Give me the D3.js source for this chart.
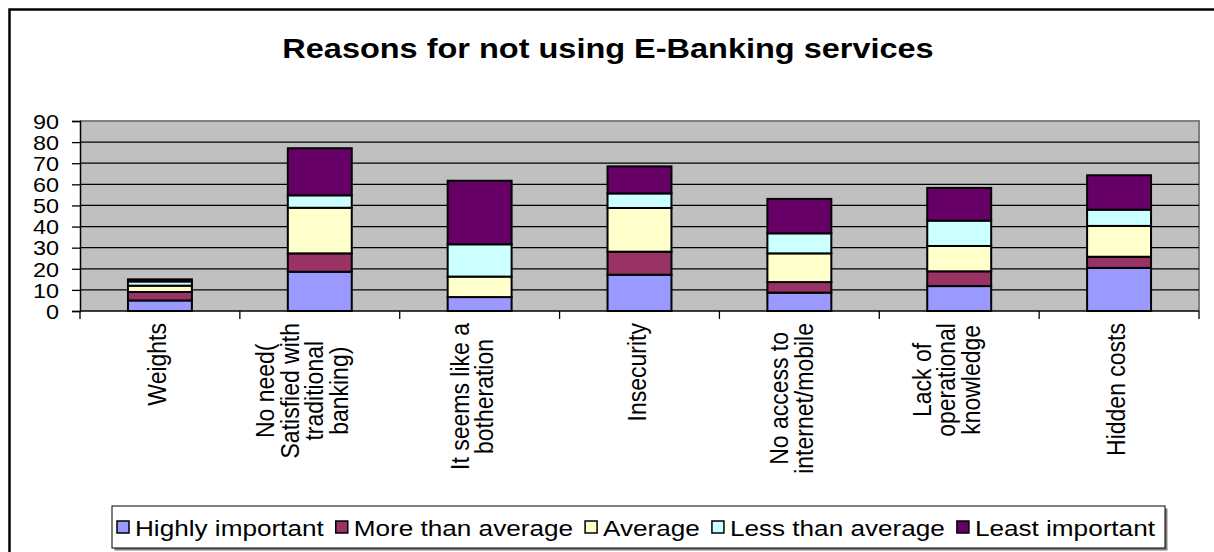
<!DOCTYPE html>
<html>
<head>
<meta charset="utf-8">
<script src="https://cdnjs.cloudflare.com/ajax/libs/d3/7.8.5/d3.min.js"></script>
<style>
  body { margin: 0; background: #fff; }
  text { font-family: Arial, "Liberation Sans", sans-serif; fill: #000; }
</style>
</head>
<body>
<div id="container"></div>
<script>
var categories = [
    ['Weights'],
    ['No need(', 'Satisfied with', 'traditional', 'banking)'],
    ['It seems like a', 'botheration'],
    ['Insecurity'],
    ['No access to', 'internet/mobile'],
    ['Lack of', 'operational', 'knowledge'],
    ['Hidden costs']
];
var seriesNames = ['Highly important', 'More than average', 'Average', 'Less than average', 'Least important'];
var highlyImportant = [5, 18.6, 6.6, 17.2, 8.7, 11.8, 20.4];
var moreThanAverage = [4, 8.7, 0, 10.9, 5.0, 7.0, 5.3];
var average = [3, 21.6, 9.7, 20.7, 13.6, 12.0, 14.6];
var lessThanAverage = [2, 5.9, 15.3, 6.9, 9.5, 12.0, 7.7];
var leastImportant = [1, 22.3, 30.1, 12.8, 16.3, 15.5, 16.3];
var yTicks = [0, 10, 20, 30, 40, 50, 60, 70, 80, 90];
var colors = ['#9999FF', '#993366', '#FFFFCC', '#CCFFFF', '#660066'];

var width = 1214,
    height = 552,
    plot = {left: 80, right: 1199, top: 121, bottom: 311};

var svg = d3.select('#container')
    .append('svg')
    .attr('width', width)
    .attr('height', height);

// outer frame (only left and top show in the picture)
svg.append('rect')
    .attr('x', 9.5).attr('y', 9.5)
    .attr('width', 1400).attr('height', 800)
    .attr('fill', 'none')
    .attr('stroke', '#000')
    .attr('stroke-width', 2.5);

// title
svg.append('g')
    .attr('transform', 'translate(608,58) scale(1.16,1)')
    .append('text')
    .attr('text-anchor', 'middle')
    .style('font-size', '28px')
    .style('font-weight', 'bold')
    .text('Reasons for not using E-Banking services');

var keys = categories.map(function(c) { return c.join(' '); });
var rows = keys.map(function(k, i) {
    return {
        key: k,
        s0: highlyImportant[i],
        s1: moreThanAverage[i],
        s2: average[i],
        s3: lessThanAverage[i],
        s4: leastImportant[i]
    };
});

var x = d3.scaleBand()
    .domain(keys)
    .range([plot.left, plot.right])
    .paddingInner(0.6)
    .paddingOuter(0.3);

var y = d3.scaleLinear()
    .domain([0, 90])
    .range([plot.bottom, plot.top]);

// plot background
svg.append('rect')
    .attr('x', plot.left).attr('y', plot.top)
    .attr('width', plot.right - plot.left)
    .attr('height', plot.bottom - plot.top)
    .attr('fill', '#C0C0C0');
svg.append('path')
    .attr('d', 'M' + plot.left + ',' + plot.top + 'H' + plot.right + 'V' + plot.bottom)
    .attr('fill', 'none')
    .attr('stroke', '#808080')
    .attr('stroke-width', 2);

// gridlines
svg.append('g')
    .selectAll('line')
    .data(yTicks.slice(1, -1))
    .enter()
    .append('line')
    .attr('x1', plot.left).attr('x2', plot.right)
    .attr('y1', function(d) { return y(d); })
    .attr('y2', function(d) { return y(d); })
    .attr('stroke', '#000')
    .attr('stroke-width', 1.3);

// stacked bars
var stack = d3.stack().keys(['s0', 's1', 's2', 's3', 's4']);
var layers = stack(rows);

svg.append('g')
    .selectAll('g')
    .data(layers)
    .enter()
    .append('g')
    .attr('fill', function(d, i) { return colors[i]; })
    .selectAll('rect')
    .data(function(d) { return d.filter(function(p) { return p[1] - p[0] > 0; }); })
    .enter()
    .append('rect')
    .attr('x', function(d) { return x(d.data.key); })
    .attr('y', function(d) { return y(d[1]); })
    .attr('width', x.bandwidth())
    .attr('height', function(d) { return y(d[0]) - y(d[1]); })
    .attr('stroke', '#000')
    .attr('stroke-width', 2);

// y axis
var yAxis = svg.append('g')
    .attr('transform', 'translate(' + plot.left + ',0)')
    .call(d3.axisLeft(y).tickValues(yTicks).tickSize(8).tickPadding(12));
yAxis.select('.domain').attr('stroke', '#000').attr('stroke-width', 1.5);
yAxis.selectAll('.tick line').attr('stroke', '#000').attr('stroke-width', 1.3);
yAxis.selectAll('.tick text')
    .style('font-size', '18px')
    .attr('font-family', null)
    .attr('transform', 'translate(-21,0) scale(1.3,1.12)')
    .attr('x', 0)
    .attr('dy', '0.36em');

// x axis line and ticks at category boundaries
svg.append('line')
    .attr('x1', plot.left).attr('x2', plot.right)
    .attr('y1', plot.bottom).attr('y2', plot.bottom)
    .attr('stroke', '#000').attr('stroke-width', 1.5);
svg.append('g')
    .selectAll('line')
    .data(d3.range(keys.length + 1))
    .enter()
    .append('line')
    .attr('x1', function(i) { return x.range()[0] + i * x.step(); })
    .attr('x2', function(i) { return x.range()[0] + i * x.step(); })
    .attr('y1', plot.bottom).attr('y2', plot.bottom + 8)
    .attr('stroke', '#000').attr('stroke-width', 1.3);

// category labels, rotated
var catStretch = 1.15;
var lineGap = 21.5;
var labelTop = 323;
svg.append('g')
    .selectAll('g')
    .data(categories)
    .enter()
    .append('g')
    .each(function(lines, i) {
        var cx = x(keys[i]) + x.bandwidth() / 2 - 3 - 5 * (lines.length - 1);
        var g = d3.select(this);
        var texts = g.selectAll('text')
            .data(lines)
            .enter()
            .append('text')
            .style('font-size', '23px')
            .attr('text-anchor', 'middle')
            .attr('dy', '0.35em')
            .text(function(d) { return d; });
        var maxLen = 0;
        texts.each(function() { maxLen = Math.max(maxLen, this.getComputedTextLength()); });
        var cy = labelTop + maxLen / 2;
        texts.attr('transform', function(d, j) {
            var off = (j - (lines.length - 1) / 2) * lineGap * catStretch;
            return 'translate(' + (cx + off) + ',' + cy + ') scale(' + catStretch + ',1) rotate(-90)';
        });
    });

// legend
var lg = {left: 112, right: 1165, top: 506, bottom: 548};
svg.append('rect')
    .attr('x', lg.left + 2.5).attr('y', lg.top + 2.5)
    .attr('width', lg.right - lg.left).attr('height', lg.bottom - lg.top)
    .attr('fill', '#808080');
svg.append('rect')
    .attr('x', lg.left).attr('y', lg.top)
    .attr('width', lg.right - lg.left).attr('height', lg.bottom - lg.top)
    .attr('fill', '#fff').attr('stroke', '#000').attr('stroke-width', 1);

var box = 12, boxGap = 6, itemGap = 12, legendFont = 22;
var legendItems = svg.append('g')
    .selectAll('g')
    .data(seriesNames)
    .enter()
    .append('g');
legendItems.append('rect')
    .attr('width', box).attr('height', box)
    .attr('fill', function(d, i) { return colors[i]; })
    .attr('stroke', '#000').attr('stroke-width', 1.5);
var legendText = legendItems.append('text')
    .style('font-size', legendFont + 'px')
    .attr('dy', '0.35em')
    .text(function(d) { return d; });

var widths = [];
legendText.each(function() { widths.push(this.getComputedTextLength()); });
var avail = (lg.right - 10) - (lg.left + 5) - seriesNames.length * (box + boxGap) - (seriesNames.length - 1) * itemGap;
var ls = avail / d3.sum(widths);
var cursor = lg.left + 5;
var midY = (lg.top + lg.bottom) / 2;
legendItems.each(function(d, i) {
    var g = d3.select(this);
    g.select('rect').attr('x', cursor).attr('y', midY - box / 2);
    g.select('text').attr('transform', 'translate(' + (cursor + box + boxGap) + ',' + (midY + 1) + ') scale(' + ls + ',1)');
    cursor += box + boxGap + widths[i] * ls + itemGap;
});
</script>
</body>
</html>
